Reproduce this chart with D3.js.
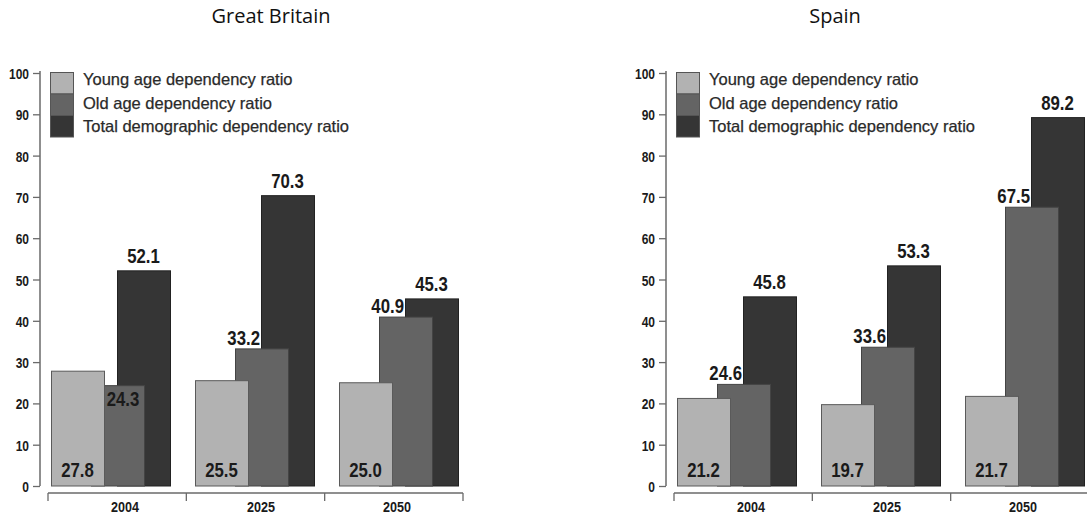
<!DOCTYPE html>
<html>
<head>
<meta charset="utf-8">
<script src="https://cdn.jsdelivr.net/npm/d3@7"></script>
<style>
  html, body { margin: 0; padding: 0; background: #fff; }
  svg { display: block; }
  .num { font-family: "Liberation Sans", Arial, sans-serif; font-weight: bold; fill: #1a1a1a; }
  .legend-text { font-family: "Liberation Sans", Arial, sans-serif; fill: #2a2a2a; stroke: #2a2a2a; stroke-width: 0.25px; }
  .title { font-family: "Open Sans", "DejaVu Sans", sans-serif; fill: #111; }
</style>
</head>
<body>
<svg id="chart" width="1087" height="517"></svg>
<script>
// Dependency ratios (%) by year
const years = ["2004", "2025", "2050"];
const seriesNames = ["Young age dependency ratio", "Old age dependency ratio", "Total demographic dependency ratio"];
const seriesColors = ["#b2b2b2", "#646464", "#353535"];
const seriesStrokes = ["#5a5a5a", "#444444", "#222222"];
const yTicks = [0, 10, 20, 30, 40, 50, 60, 70, 80, 90, 100];

const gbYoung = [27.8, 25.5, 25.0];
const gbOld = [24.3, 33.2, 40.9];
const gbTotal = [52.1, 70.3, 45.3];

const esYoung = [21.2, 19.7, 21.7];
const esOld = [24.6, 33.6, 67.5];
const esTotal = [45.8, 53.3, 89.2];

const panels = [
  { title: "Great Britain", young: gbYoung, old: gbOld, total: gbTotal, axisX: 40, titleX: 271 },
  { title: "Spain", young: esYoung, old: esOld, total: esTotal, axisX: 666, titleX: 835 }
];

const svg = d3.select("#chart");
const fmt = d3.format(".1f");

const y = d3.scaleLinear().domain([0, 100]).range([486, 73]);

const barW = 53, oldOffset = 40, totalOffset = 66;

// squeeze text horizontally around its anchor point (condensed face)
function condense(sel, sx) {
  sel.each(function () {
    const t = d3.select(this);
    const x = +t.attr("x") || 0, yy = +t.attr("y") || 0;
    t.attr("x", 0).attr("y", 0).attr("transform", `translate(${x},${yy}) scale(${sx},1)`);
  });
}

function numLabel(parent, x, yy, text, anchor, size) {
  const t = parent.append("text").attr("class", "num")
    .attr("x", x).attr("y", yy)
    .attr("text-anchor", anchor).style("font-size", size + "px")
    .text(text);
  condense(t, 0.84);
  return t;
}

panels.forEach(p => {
  const g = svg.append("g").attr("transform", `translate(${p.axisX},0)`);

  // title
  svg.append("text").attr("class", "title")
    .attr("x", p.titleX).attr("y", 23)
    .attr("text-anchor", "middle")
    .style("font-size", "20px")
    .text(p.title);

  // x band (axis segments), bar groups and year labels
  const xBand = d3.scaleBand().domain(years).range([8, 423]);
  const xGroup = d3.scalePoint().domain(years).range([11, 299]);
  const xLabel = d3.scalePoint().domain(years).range([85, 357]);

  // y axis
  const yAxis = d3.axisLeft(y).tickValues(yTicks).tickSize(7).tickSizeOuter(0).tickPadding(4);
  const ya = g.append("g").call(yAxis);
  ya.select(".domain").attr("stroke", "#6a6a6a").attr("stroke-width", 1.5)
    .attr("d", `M0,${y(0)}V${y(100) - 2}`);
  ya.selectAll(".tick line").attr("stroke", "#6a6a6a").attr("stroke-width", 1.3);
  const tt = ya.selectAll(".tick text").attr("class", "num")
    .style("font-size", "15px").attr("dy", null).attr("y", 5.5);
  condense(tt, 0.8);

  // x axis line with separators at band edges
  const xa = g.append("g");
  xa.append("line")
    .attr("x1", xBand.range()[0]).attr("x2", xBand.range()[1])
    .attr("y1", 493).attr("y2", 493)
    .attr("stroke", "#6a6a6a").attr("stroke-width", 1.3);
  const edges = years.map(d => xBand(d)).concat([xBand.range()[1]]);
  xa.selectAll("line.sep").data(edges).enter().append("line")
    .attr("class", "sep")
    .attr("x1", d => d).attr("x2", d => d)
    .attr("y1", 493).attr("y2", 501)
    .attr("stroke", "#6a6a6a").attr("stroke-width", 1.3);
  years.forEach(d => numLabel(xa, xLabel(d), 512, d, "middle", 15));

  // bars: total behind, old in the middle, young in front
  const rows = years.map((yr, i) => ({ yr, young: p.young[i], old: p.old[i], total: p.total[i] }));
  const layers = [
    { key: "total", off: totalOffset, s: 2 },
    { key: "old", off: oldOffset, s: 1 },
    { key: "young", off: 0, s: 0 }
  ];
  layers.forEach(L => {
    g.selectAll(`rect.${L.key}`).data(rows).enter().append("rect")
      .attr("class", L.key)
      .attr("x", d => xGroup(d.yr) + L.off + 0.5)
      .attr("y", d => y(d[L.key]))
      .attr("width", barW)
      .attr("height", d => y(0) - y(d[L.key]))
      .attr("fill", seriesColors[L.s])
      .attr("stroke", seriesStrokes[L.s])
      .attr("stroke-width", 1);
  });

  // value labels
  rows.forEach(d => {
    const gx = xGroup(d.yr);
    // total: centred over its bar
    numLabel(g, gx + totalOffset + barW / 2, y(d.total) - 8, fmt(d.total), "middle", 20);
    // old: beside the total bar, or inside when lower than young
    if (d.old > d.young) {
      numLabel(g, gx + totalOffset - 1, y(d.old) - 4, fmt(d.old), "end", 20);
    } else {
      numLabel(g, gx + (barW + oldOffset + barW) / 2 - 1, y(d.old) + 20, fmt(d.old), "middle", 20);
    }
    // young: at the foot of its bar
    numLabel(g, gx + barW / 2, y(0) - 9, fmt(d.young), "middle", 20);
  });

  // legend
  const lg = g.append("g").attr("transform", "translate(10,72)");
  seriesNames.forEach((name, i) => {
    lg.append("rect")
      .attr("x", 0.5).attr("y", i * 21.5 + 0.5)
      .attr("width", 23).attr("height", 21.5)
      .attr("fill", seriesColors[i]).attr("stroke", "#555").attr("stroke-width", 1);
    lg.append("text").attr("class", "legend-text")
      .attr("x", 33).attr("y", 13 + i * 23.5)
      .style("font-size", "16.5px")
      .text(name);
  });
});
</script>
</body>
</html>
